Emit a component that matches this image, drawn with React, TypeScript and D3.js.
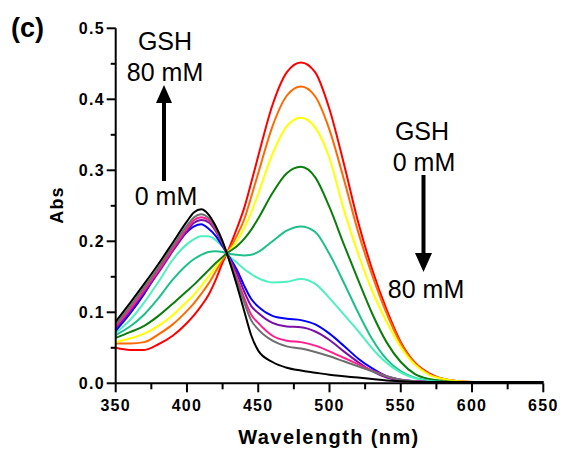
import React from 'react';
import * as d3 from 'd3';

const wavelengths = [350,360,370,380,390,400,405,410,415,420,425,428,435,440,445,450,460,470,480,490,500,510,520,530,540,550,560,570,580,590,600,625,650];

const red =    [0.050,0.047,0.047,0.055,0.067,0.085,0.096,0.109,0.124,0.145,0.170,0.183,0.218,0.246,0.282,0.320,0.392,0.438,0.452,0.438,0.386,0.310,0.228,0.160,0.104,0.058,0.029,0.014,0.006,0.003,0.002,0.002,0.002];
const orange = [0.056,0.056,0.058,0.069,0.083,0.102,0.113,0.126,0.140,0.157,0.174,0.183,0.208,0.230,0.262,0.296,0.362,0.405,0.418,0.404,0.357,0.288,0.214,0.152,0.099,0.056,0.028,0.013,0.006,0.003,0.002,0.002,0.002];
const yellow = [0.058,0.063,0.070,0.081,0.096,0.115,0.125,0.137,0.150,0.163,0.177,0.183,0.200,0.218,0.240,0.267,0.323,0.362,0.374,0.360,0.317,0.245,0.183,0.130,0.087,0.051,0.026,0.012,0.006,0.003,0.002,0.002,0.002];
const green =  [0.064,0.072,0.081,0.095,0.112,0.130,0.139,0.149,0.159,0.169,0.178,0.183,0.193,0.203,0.216,0.232,0.268,0.296,0.305,0.290,0.248,0.196,0.146,0.098,0.058,0.030,0.013,0.006,0.003,0.002,0.002,0.002,0.002];
const teal =   [0.068,0.080,0.097,0.120,0.146,0.167,0.175,0.181,0.185,0.186,0.185,0.183,0.181,0.180,0.181,0.185,0.200,0.215,0.221,0.213,0.182,0.142,0.100,0.062,0.034,0.017,0.008,0.004,0.002,0.002,0.002,0.002,0.002];
const aqua =   [0.071,0.089,0.114,0.143,0.174,0.196,0.203,0.207,0.207,0.202,0.192,0.183,0.170,0.161,0.154,0.148,0.142,0.143,0.147,0.140,0.120,0.097,0.074,0.049,0.029,0.015,0.007,0.003,0.002,0.002,0.002,0.002,0.002];
const blue =   [0.074,0.098,0.126,0.158,0.189,0.213,0.221,0.224,0.218,0.208,0.193,0.183,0.160,0.138,0.119,0.108,0.095,0.091,0.089,0.083,0.070,0.053,0.035,0.021,0.010,0.005,0.003,0.002,0.002,0.002,0.002,0.002,0.002];
const purple = [0.078,0.101,0.128,0.156,0.186,0.214,0.226,0.230,0.227,0.215,0.196,0.183,0.155,0.130,0.109,0.099,0.085,0.080,0.079,0.073,0.061,0.045,0.030,0.017,0.008,0.004,0.003,0.002,0.002,0.002,0.002,0.002,0.002];
const pink =   [0.080,0.104,0.131,0.159,0.189,0.218,0.230,0.234,0.230,0.217,0.197,0.183,0.148,0.121,0.097,0.085,0.067,0.060,0.058,0.053,0.045,0.036,0.027,0.018,0.010,0.005,0.003,0.002,0.002,0.002,0.002,0.002,0.002];
const gray =   [0.083,0.108,0.135,0.163,0.193,0.222,0.234,0.238,0.233,0.219,0.198,0.183,0.144,0.115,0.089,0.076,0.060,0.052,0.049,0.044,0.038,0.031,0.024,0.017,0.010,0.005,0.003,0.002,0.002,0.002,0.002,0.002,0.002];
const black =  [0.087,0.113,0.140,0.168,0.198,0.228,0.241,0.245,0.238,0.222,0.200,0.183,0.138,0.103,0.068,0.046,0.030,0.022,0.018,0.015,0.012,0.010,0.008,0.006,0.004,0.003,0.002,0.002,0.002,0.002,0.002,0.002,0.002];

const seriesList = [red, orange, yellow, green, teal, aqua, blue, purple, pink, gray, black];
const seriesColors = ['#ff0000','#ff6a00','#ffff00','#0a7d0a','#1ec08a','#4ff0c0','#0000ff','#7a10a8','#ff1e8c','#6e6e6e','#000000'];

const xTickLabels = [350,400,450,500,550,600,650];
const yTickLabels = [0.0,0.1,0.2,0.3,0.4,0.5];

export default function App() {
  const x = d3.scaleLinear().domain([350, 650]).range([115.7, 543.3]);
  const y = d3.scaleLinear().domain([0, 0.5]).range([383.3, 28.3]);
  const line = d3.line<number>()
    .x((_, i) => x(wavelengths[i]))
    .y((d) => y(d))
    .curve(d3.curveMonotoneX);

  const xMinor = d3.range(350, 651, 25);
  const yMinor = d3.range(0, 0.501, 0.05);
  const bold = { fontFamily: 'Liberation Sans, Arial, sans-serif', fontWeight: 700 } as const;
  const reg = { fontFamily: 'Liberation Sans, Arial, sans-serif', fontWeight: 400 } as const;

  return (
    <svg width={563} height={452} style={{ position: 'absolute', left: 0, top: 0, background: '#fff' }}>
      <rect width={563} height={452} fill="#fff" />
      {seriesList.map((s, i) => (
        <path key={i} d={line(s) || ''} fill="none" stroke={seriesColors[i]} strokeWidth={2} strokeLinejoin="round" />
      ))}
      {/* axes */}
      <line x1={x(350)} x2={x(650)} y1={y(0)} y2={y(0)} stroke="#000" strokeWidth={2} />
      <line x1={x(350)} x2={x(350)} y1={y(0)} y2={y(0.5)} stroke="#000" strokeWidth={2} />
      {xMinor.map((t) => (
        <line key={'xt' + t} x1={x(t)} x2={x(t)} y1={y(0)} y2={y(0) + (t % 50 === 0 ? 9 : 6)} stroke="#000" strokeWidth={2} />
      ))}
      {yMinor.map((t, i) => (
        <line key={'yt' + i} x1={x(350) - (i % 2 === 0 ? 9 : 5)} x2={x(350)} y1={y(t)} y2={y(t)} stroke="#000" strokeWidth={2} />
      ))}
      {xTickLabels.map((t) => (
        <text key={'xl' + t} x={x(t)} y={410.5} textAnchor="middle" fontSize={16} letterSpacing={1.3} style={bold}>{t}</text>
      ))}
      {yTickLabels.map((t) => (
        <text key={'yl' + t} x={105} y={y(t) + 5.8} textAnchor="end" fontSize={16} letterSpacing={1.3} style={bold}>{t.toFixed(1)}</text>
      ))}
      <text x={329} y={444} textAnchor="middle" fontSize={20} letterSpacing={1.4} style={bold}>Wavelength (nm)</text>
      <text transform="translate(63,205) rotate(-90)" textAnchor="middle" fontSize={18} letterSpacing={1.2} style={bold}>Abs</text>
      <text x={11} y={37} fontSize={27} style={bold}>(c)</text>

      {/* left annotation */}
      <text x={165} y={50} textAnchor="middle" fontSize={25} style={reg}>GSH</text>
      <text x={165} y={81} textAnchor="middle" fontSize={25} style={reg}>80 mM</text>
      <line x1={164} x2={164} y1={181} y2={100} stroke="#000" strokeWidth={4} />
      <path d="M156,103 L172,103 L164,85 Z" fill="#000" />
      <text x={166} y={205} textAnchor="middle" fontSize={25} style={reg}>0 mM</text>

      {/* right annotation */}
      <text x={422} y={140} textAnchor="middle" fontSize={25} style={reg}>GSH</text>
      <text x={424} y={171} textAnchor="middle" fontSize={25} style={reg}>0 mM</text>
      <line x1={423.5} x2={423.5} y1={175} y2={256} stroke="#000" strokeWidth={4} />
      <path d="M415,253 L432,253 L423.5,272 Z" fill="#000" />
      <text x={426} y={298} textAnchor="middle" fontSize={25} style={reg}>80 mM</text>
    </svg>
  );
}
